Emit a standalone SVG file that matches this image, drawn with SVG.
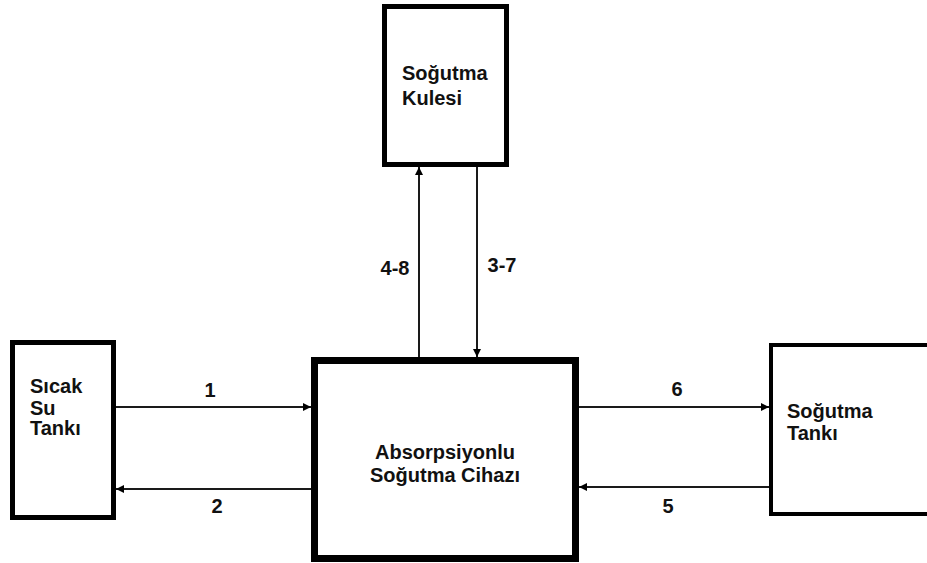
<svg xmlns="http://www.w3.org/2000/svg" width="927" height="563" viewBox="0 0 927 563">
<style>
.box{fill:#fff;stroke:#000}
.lbl{font-family:"Liberation Sans",Arial,sans-serif;font-weight:bold;font-size:20px;fill:#111}
.num{font-family:"Liberation Sans",Arial,sans-serif;font-weight:bold;font-size:20px;fill:#111;text-anchor:middle}
.ln{stroke:#1a1a1a;stroke-width:2;fill:none;marker-end:url(#ah)}
</style>
<defs>
<marker id="ah" viewBox="0 0 10 10" refX="10" refY="5" markerWidth="9" markerHeight="8" markerUnits="userSpaceOnUse" orient="auto">
<path d="M0,0 L10,5 L0,10 z" fill="#000"/>
</marker>
</defs>
<rect width="927" height="563" fill="#fff"/>
<g id="connectors">
<line class="ln" x1="116" y1="407" x2="311" y2="407"/>
<line class="ln" x1="311" y1="489" x2="116" y2="489"/>
<line class="ln" x1="579" y1="407" x2="769" y2="407"/>
<line class="ln" x1="769" y1="487" x2="579" y2="487"/>
<line class="ln" x1="419" y1="357" x2="419" y2="167"/>
<line class="ln" x1="477" y1="167" x2="477" y2="357"/>
<text class="num" x="210" y="397">1</text>
<text class="num" x="217" y="513">2</text>
<text class="num" x="677" y="396">6</text>
<text class="num" x="668" y="513">5</text>
<text class="num" x="395" y="275">4-8</text>
<text class="num" x="502" y="272">3-7</text>
</g>
<g id="cooling-tower">
<rect class="box" x="384.5" y="6.5" width="122" height="158" stroke-width="5"/>
<text class="lbl" x="402" y="80">Soğutma</text>
<text class="lbl" x="402" y="105">Kulesi</text>
</g>
<g id="chiller">
<rect class="box" x="314.5" y="360.5" width="261" height="198" stroke-width="7"/>
<text class="lbl" x="445" y="459" text-anchor="middle">Absorpsiyonlu</text>
<text class="lbl" x="445" y="482" text-anchor="middle">Soğutma Cihazı</text>
</g>
<g id="hot-water-tank">
<rect class="box" x="12.5" y="342.5" width="101" height="175" stroke-width="5"/>
<text class="lbl" x="30" y="393">Sıcak</text>
<text class="lbl" x="30" y="415">Su</text>
<text class="lbl" x="30" y="435">Tankı</text>
</g>
<g id="cooling-tank">
<rect class="box" x="771" y="345" width="170" height="169" stroke-width="4"/>
<text class="lbl" x="787" y="418">Soğutma</text>
<text class="lbl" x="787" y="440">Tankı</text>
</g>
</svg>
